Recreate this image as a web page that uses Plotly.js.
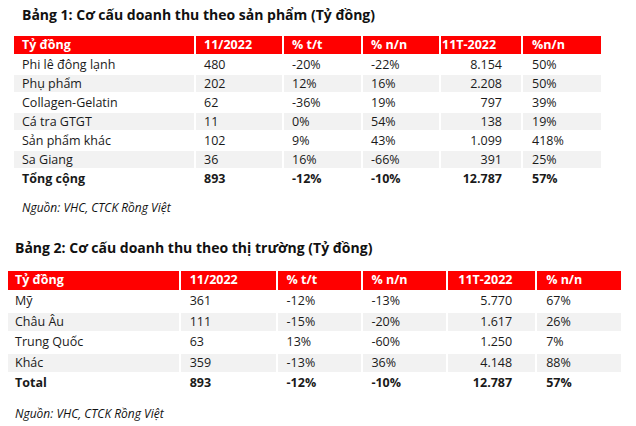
<!DOCTYPE html>
<html>
<head>
<meta charset="utf-8">
<script src="https://cdn.plot.ly/plotly-3.0.1.min.js"></script>
<style>html,body{margin:0;padding:0;background:#fff;}#chart{width:636px;height:426px;}</style>
</head>
<body>
<div id="chart"></div>
<script>
// ---- Table 1 data ----
const t1Title = "Bảng 1: Cơ cấu doanh thu theo sản phẩm (Tỷ đồng)";
const t1Headers = ["Tỷ đồng", "11/2022", "% t/t", "% n/n", "11T-2022", "%n/n"];
const t1Products = ["Phi lê đông lạnh", "Phụ phẩm", "Collagen-Gelatin", "Cá tra GTGT", "Sản phẩm khác", "Sa Giang", "Tổng cộng"];
const t1Month = ["480", "202", "62", "11", "102", "36", "893"];
const t1MoM = ["-20%", "12%", "-36%", "0%", "9%", "16%", "-12%"];
const t1YoY = ["-22%", "16%", "19%", "54%", "43%", "-66%", "-10%"];
const t1Ytd = ["8.154", "2.208", "797", "138", "1.099", "391", "12.787"];
const t1YtdYoY = ["50%", "50%", "39%", "19%", "418%", "25%", "57%"];
const t1Source = "Nguồn: VHC, CTCK Rồng Việt";

// ---- Table 2 data ----
const t2Title = "Bảng 2: Cơ cấu doanh thu theo thị trường (Tỷ đồng)";
const t2Headers = ["Tỷ đồng", "11/2022", "% t/t", "% n/n", "11T-2022", "% n/n"];
const t2Markets = ["Mỹ", "Châu Âu", "Trung Quốc", "Khác", "Total"];
const t2Month = ["361", "111", "63", "359", "893"];
const t2MoM = ["-12%", "-15%", "13%", "-13%", "-12%"];
const t2YoY = ["-13%", "-20%", "-60%", "36%", "-10%"];
const t2Ytd = ["5.770", "1.617", "1.250", "4.148", "12.787"];
const t2YtdYoY = ["67%", "26%", "7%", "88%", "57%"];
const t2Source = "Nguồn: VHC, CTCK Rồng Việt";

const W = 636, H = 426;
const RED = "#ff0000", GREY = "#f2f2f2", TXT = "#1a1a1a", CLEAR = "rgba(0,0,0,0)";
const FONT = "Open Sans, sans-serif";

function stripes(n) {
  const c = [];
  for (let i = 0; i < n; i++) c.push(i % 2 === 1 ? GREY : "#ffffff");
  return c;
}
function yDom(top, bottom) { return [1 - bottom / H, 1 - top / H]; }

// background layer: fills + white cell borders
function fillLayer(nCols, nRows, xl, xr, top, bottom, widths, hh, ch) {
  const empty = [];
  for (let i = 0; i < nRows; i++) empty.push("");
  const cols = [], hdr = [], fills = [];
  for (let j = 0; j < nCols; j++) { cols.push(empty); hdr.push(""); fills.push(stripes(nRows)); }
  return {
    type: "table",
    domain: { x: [xl / W, xr / W], y: yDom(top, bottom) },
    columnwidth: widths,
    header: { values: hdr, height: hh, fill: { color: RED }, line: { color: "#ffffff", width: 2 },
              font: { family: FONT, size: 12 } },
    cells: { values: cols, height: ch, fill: { color: fills }, line: { color: "#ffffff", width: 2 },
             font: { family: FONT, size: 12 } }
  };
}

// text layer: transparent, column grid tuned to the text positions
function textLayer(headers, cols, xl, xr, top, bottom, widths, hh, ch) {
  const nRows = cols[0].length;
  // insert an empty spacer column between the 11T column and the last one
  const empty = [];
  for (let i = 0; i < nRows; i++) empty.push("");
  const allCols = [cols[0], cols[1], cols[2], cols[3], cols[4], empty, cols[5]];
  const allHdr = [headers[0], headers[1], headers[2], headers[3], headers[4], "", headers[5]];
  const weights = allCols.map(c => c.map((v, i) => i === nRows - 1 ? "bold" : "normal"));
  return {
    type: "table",
    domain: { x: [xl / W, xr / W], y: yDom(top, bottom) },
    columnwidth: widths,
    header: {
      values: allHdr,
      align: "left",
      height: hh,
      fill: { color: CLEAR },
      line: { color: CLEAR, width: 0 },
      font: { family: FONT, size: 12.5, color: "#ffffff", weight: "bold" }
    },
    cells: {
      values: allCols,
      align: ["left", "left", "left", "left", "right", "left", "left"],
      height: ch,
      fill: { color: CLEAR },
      line: { color: CLEAR, width: 0 },
      font: { family: FONT, size: 12.5, color: TXT, weight: weights }
    }
  };
}

const t1Cols = [t1Products, t1Month, t1MoM, t1YoY, t1Ytd, t1YtdYoY];
const t2Cols = [t2Markets, t2Month, t2MoM, t2YoY, t2Ytd, t2YtdYoY];

const data = [
  fillLayer(6, t1Products.length, 13, 602, 35, 200, [182, 88, 79, 78, 82, 80], 20, 19),
  fillLayer(6, t2Markets.length, 7, 623, 270, 400, [173, 97, 86, 85, 89, 86], 21, 20.5),
  textLayer(t1Headers, t1Cols, 14, 602, 31.5, 200, [182, 88, 79, 71, 76, 14, 78], 20, 19),
  textLayer(t2Headers, t2Cols, 7, 623, 267, 400, [175, 97, 85, 87, 70, 18, 84], 21, 20.5)
];

function ann(text, px, py, size) {
  return {
    text: text, xref: "paper", yref: "paper", x: px / W, y: 1 - py / H,
    xanchor: "left", yanchor: "middle", showarrow: false,
    font: { family: FONT, size: size, color: "#111111" }
  };
}

const layout = {
  width: W, height: H,
  margin: { l: 0, r: 0, t: 0, b: 0 },
  paper_bgcolor: "#ffffff",
  showlegend: false,
  annotations: [
    ann("<b>" + t1Title + "</b>", 20, 15, 14),
    ann("<i>" + t1Source + "</i>", 20, 207, 12),
    ann("<b>" + t2Title + "</b>", 13, 248, 14),
    ann("<i>" + t2Source + "</i>", 13, 413, 12)
  ]
};

Plotly.newPlot("chart", data, layout, { displayModeBar: false, staticPlot: true });
</script>
</body>
</html>
